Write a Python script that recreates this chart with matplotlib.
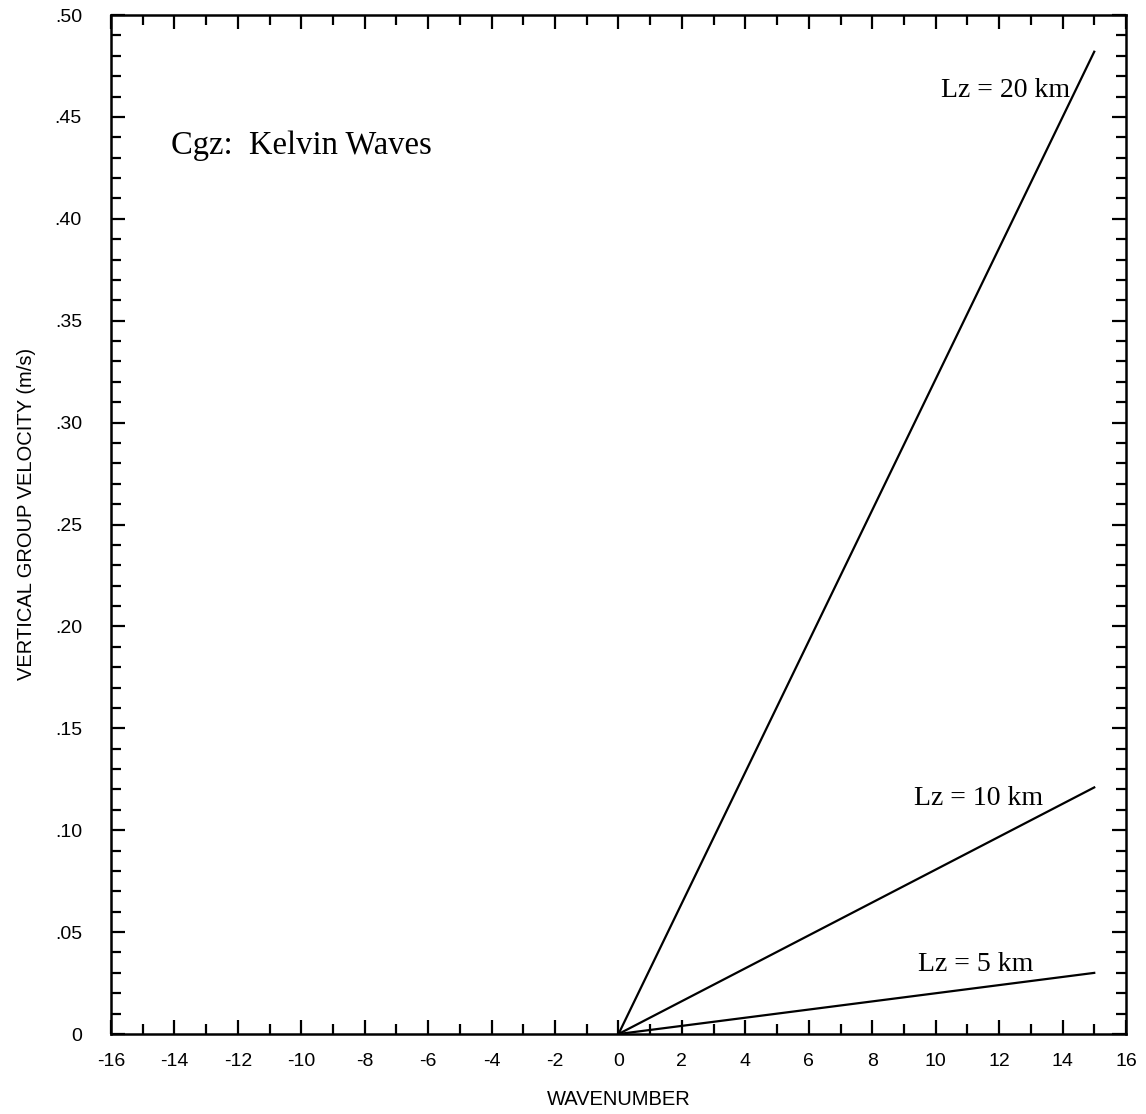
import numpy as np
import matplotlib.pyplot as plt
from matplotlib.ticker import MultipleLocator, FuncFormatter

plt.rcParams['axes.unicode_minus'] = False

# Vertical group velocity of Kelvin waves for three vertical wavelengths
wavenumber = [0, 15]
cgz_20km = [0.0, 0.482]
cgz_10km = [0.0, 0.121]
cgz_5km = [0.0, 0.030]
labels = ['Lz = 20 km', 'Lz = 10 km', 'Lz = 5 km']

fig = plt.figure(figsize=(11.46, 11.14), dpi=100)
ax = fig.add_axes([0.0969, 0.0718, 0.8856, 0.9147])

for cgz in (cgz_20km, cgz_10km, cgz_5km):
    ax.plot(wavenumber, cgz, color='black', lw=1.6)

ax.set_xlim(-16, 16)
ax.set_ylim(0, 0.5)

ax.xaxis.set_major_locator(MultipleLocator(2))
ax.xaxis.set_minor_locator(MultipleLocator(1))
ax.yaxis.set_major_locator(MultipleLocator(0.05))
ax.yaxis.set_minor_locator(MultipleLocator(0.01))

def yfmt(v, pos):
    if abs(v) < 1e-9:
        return '0'
    return ('%.2f' % v).lstrip('0')

ax.yaxis.set_major_formatter(FuncFormatter(yfmt))

ax.tick_params(which='both', direction='in', top=True, right=True, width=1.6,
               labelsize=14)
ax.tick_params(which='major', length=10)
ax.tick_params(which='minor', length=7)
ax.tick_params(axis='x', pad=14)
ax.tick_params(axis='y', pad=21)
for lab in ax.get_xticklabels() + ax.get_yticklabels():
    lab.set_family('Liberation Sans')
for s in ax.spines.values():
    s.set_linewidth(1.8)

ax.set_xlabel('WAVENUMBER', family='Liberation Sans', fontsize=14.5, labelpad=14)
ax.set_ylabel('VERTICAL GROUP VELOCITY (m/s)', family='Liberation Sans',
              fontsize=14.5)
ax.yaxis.set_label_coords(-0.074, 0.51)

ax.text(-14.1, 0.4318, 'Cgz:  Kelvin Waves', family='Liberation Serif',
        fontsize=23.5, va='baseline', ha='left')
ax.text(14.25, 0.4598, labels[0], family='Liberation Serif', fontsize=20,
        va='baseline', ha='right')
ax.text(11.35, 0.1124, labels[1], family='Liberation Serif', fontsize=20,
        va='baseline', ha='center')
ax.text(11.26, 0.0309, labels[2], family='Liberation Serif', fontsize=20,
        va='baseline', ha='center')

fig.savefig('out.png', dpi=100)
